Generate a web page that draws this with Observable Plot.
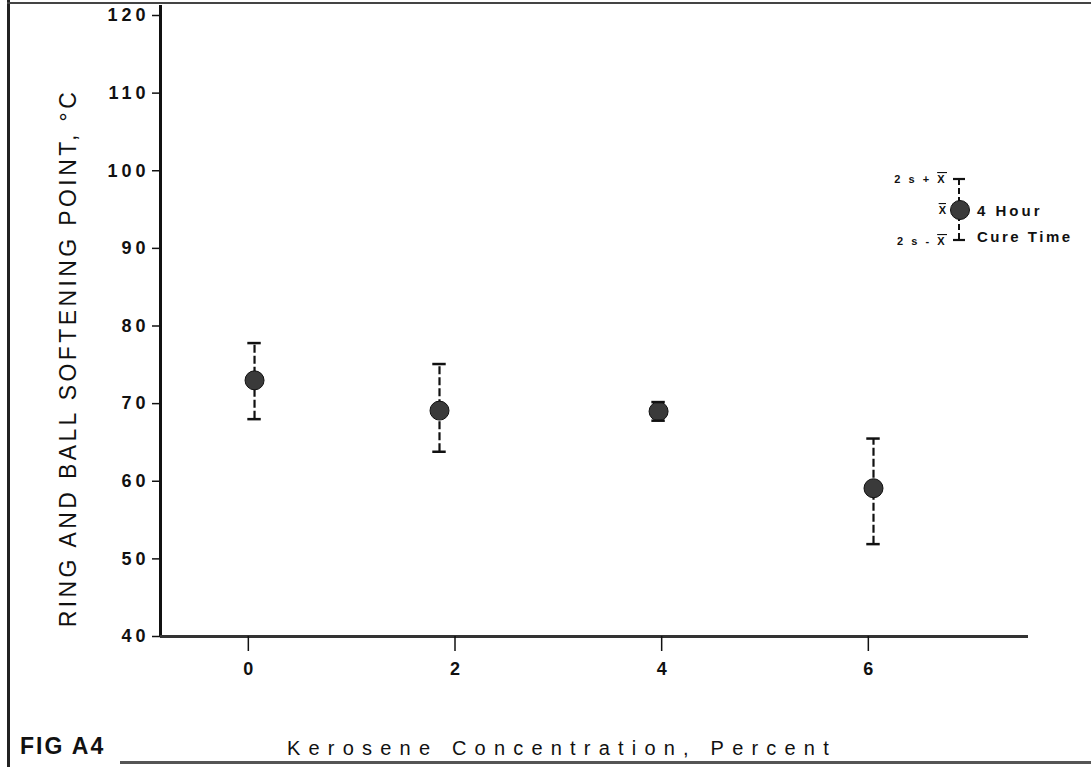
<!DOCTYPE html>
<html><head><meta charset="utf-8">
<script src="https://cdn.jsdelivr.net/npm/d3@7"></script>
<script src="https://cdn.jsdelivr.net/npm/@observablehq/plot@0.6"></script>
<style>
body{margin:0;background:#fff;}
#wrap{position:relative;width:1091px;height:767px;overflow:hidden;font-family:"Liberation Sans",Arial,sans-serif;color:#111;background:#fff;}
#wrap svg.plot{position:absolute;left:0;top:0;}
#wrap svg.plot text{font-size:18px;font-weight:bold;}
#wrap svg.plot text.ytl{letter-spacing:4px;}
.abs{position:absolute;white-space:nowrap;}
#ylab{left:68px;top:358px;transform:translate(-50%,-50%) rotate(-90deg);font-size:23px;letter-spacing:3.4px;}
#xlab{left:287px;top:737px;font-size:20px;letter-spacing:8.2px;}
#fig{left:20px;top:733px;font-size:23px;font-weight:bold;letter-spacing:2px;}
.line{position:absolute;background:#222;}
</style></head><body>
<div id="wrap">
  <div class="line" style="left:7px;top:0;width:3px;height:767px;"></div>
  <div class="line" style="left:7px;top:2px;width:1084px;height:2px;background:#444;"></div>
  <div class="line" style="left:120px;top:761px;width:971px;height:3px;background:#555;"></div>
  <div id="ylab" class="abs">RING AND BALL SOFTENING POINT, °C</div>
  <div id="xlab" class="abs">Kerosene Concentration, Percent</div>
  <div id="fig" class="abs">FIG A4</div>
</div>
<script>
// Data
const kerosene = [0.06, 1.85, 3.97, 6.05];      // percent
const meanSP   = [73.0, 69.1, 69.0, 59.1];      // mean softening point, °C
const upperSP  = [77.8, 75.1, 70.2, 65.5];      // 2s + x̄
const lowerSP  = [68.0, 63.8, 67.8, 51.9];      // x̄ - 2s
const xTicks = [0, 2, 4, 6];
const yTicks = [40, 50, 60, 70, 80, 90, 100, 110, 120];
const xDomain = [-0.85, 7.55];
const yDomain = [40, 120];

const data = kerosene.map((x, i) => ({x, mean: meanSP[i], hi: upperSP[i], lo: lowerSP[i]}));
const capHalf = 0.065;

const chart = Plot.plot({
  width: 1091, height: 767,
  marginLeft: 160, marginRight: 63, marginTop: 15, marginBottom: 131,
  x: {domain: xDomain},
  y: {domain: yDomain},
  style: {fontFamily: '"Liberation Sans", Arial, sans-serif', background: "transparent", color: "#111", fontSize: "18px"},
  marks: [
    Plot.ruleX([xDomain[0]], {y1: 40, y2: 121.3, stroke: "#111", strokeWidth: 3, clip: false}),
    Plot.ruleY([40], {x1: xDomain[0], x2: xDomain[1], stroke: "#333", strokeWidth: 3}),
    Plot.axisY({ticks: yTicks, tickSize: 8, tickPadding: 3, fontSize: 18, fontWeight: "bold", strokeWidth: 1.5, label: null, tickFormat: d => String(d)}),
    Plot.axisX({ticks: xTicks, tickSize: 15, tickPadding: 11, fontSize: 18, fontWeight: "bold", strokeWidth: 1.5, label: null, tickFormat: d => String(d)}),
    Plot.ruleX(data, {x: "x", y1: "lo", y2: "hi", stroke: "#111", strokeWidth: 2.2, strokeDasharray: "8,3"}),
    Plot.dot(data, {x: "x", y: "mean", r: 9.5, fill: "#3a3a3a", stroke: "#111", strokeWidth: 1}),
    Plot.ruleY(data, {y: "hi", x1: d => d.x - capHalf, x2: d => d.x + capHalf, stroke: "#111", strokeWidth: 2.5}),
    Plot.ruleY(data, {y: "lo", x1: d => d.x - capHalf, x2: d => d.x + capHalf, stroke: "#111", strokeWidth: 2.5})
  ]
});
chart.classList.add("plot");
// y tick labels are right-anchored; mark them for wider letter spacing
chart.querySelectorAll("text").forEach(t => {
  const g = t.closest("g");
  if (g && g.getAttribute("text-anchor") === "end") t.classList.add("ytl");
});
const wrap = document.getElementById("wrap");
wrap.appendChild(chart);

// Legend (explanatory key), drawn as a small overlay
const ns = "http://www.w3.org/2000/svg";
const leg = document.createElementNS(ns, "svg");
leg.setAttribute("width", 211); leg.setAttribute("height", 100);
leg.setAttribute("style", "position:absolute;left:880px;top:160px;overflow:visible;");
leg.innerHTML = `
  <g font-family="Liberation Sans, Arial, sans-serif" font-weight="bold" fill="#111">
    <text x="67" y="23" font-size="11" text-anchor="end" letter-spacing="2.5">2 s + <tspan text-decoration="overline">X</tspan></text>
    <text x="66" y="54" font-size="11" text-anchor="end"><tspan text-decoration="overline">X</tspan></text>
    <text x="67" y="85" font-size="11" text-anchor="end" letter-spacing="2.5">2 s - <tspan text-decoration="overline">X</tspan></text>
    <text x="97" y="56" font-size="15" letter-spacing="3">4 Hour</text>
    <text x="97" y="82" font-size="15" letter-spacing="2.5">Cure Time</text>
  </g>
  <line x1="79" x2="79" y1="19" y2="80" stroke="#111" stroke-width="2" stroke-dasharray="6,3"/>
  <line x1="73" x2="85" y1="19" y2="19" stroke="#111" stroke-width="2.2"/>
  <line x1="73" x2="85" y1="80" y2="80" stroke="#111" stroke-width="2.2"/>
  <circle cx="80" cy="50" r="9.5" fill="#3a3a3a" stroke="#111"/>
`;
wrap.appendChild(leg);
</script>
</body></html>
